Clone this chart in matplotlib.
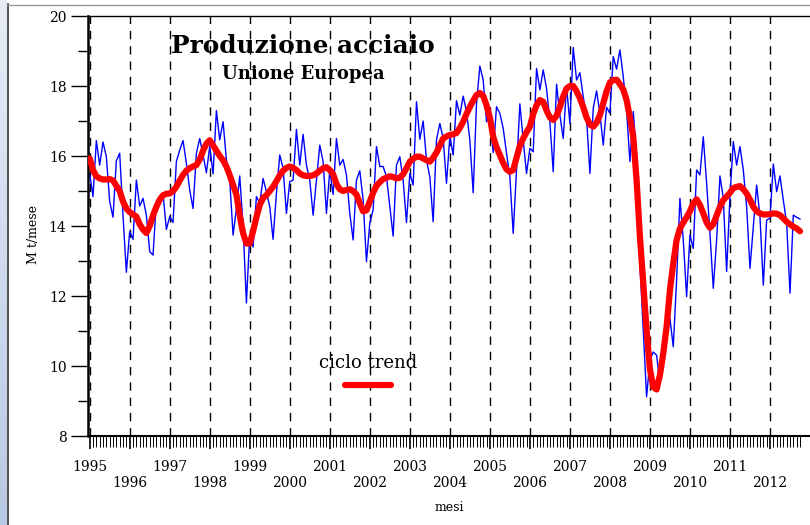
import numpy as np
import matplotlib
matplotlib.use("Agg")
import matplotlib.pyplot as plt
from matplotlib.lines import Line2D

# Monthly EU steel production (Mt/month), Jan 1995 onwards
produzione = [
    15.5, 14.84, 16.44, 15.74, 16.4, 15.98, 14.7, 14.25, 15.86, 16.08, 14.3, 12.68,
    13.84, 13.62, 15.31, 14.57, 14.79, 14.31, 13.27, 13.17, 14.7, 14.84, 14.93, 13.9,
    14.27, 14.1, 15.84, 16.17, 16.44, 15.79, 15.03, 14.5, 16.08, 16.5, 16.03, 15.52,
    16.27, 15.49, 17.3, 16.46, 16.98, 15.89, 15.31, 13.74, 14.5, 15.43, 14.0, 11.8,
    13.74, 13.4, 14.84, 14.65, 15.36, 14.98, 14.55, 13.62, 14.93, 16.03, 15.65, 14.36,
    15.27, 15.31, 16.76, 15.74, 16.62, 15.74, 15.31, 14.31, 15.31, 16.31, 15.84, 14.36,
    15.6, 14.9, 16.5, 15.74, 15.9, 15.46, 14.36, 13.6, 15.31, 15.58, 14.74, 12.98,
    14.08, 14.46, 16.27, 15.7, 15.7, 15.41, 14.55, 13.71, 15.74, 15.98, 15.31, 14.1,
    15.5, 15.17, 17.55, 16.48, 17.0, 15.88, 15.41, 14.12, 16.46, 16.93, 16.5, 15.22,
    16.55, 16.03, 17.58, 17.17, 17.71, 17.27, 16.46, 14.95, 17.5, 18.57, 18.17, 16.98,
    17.12, 16.1, 17.41, 17.22, 16.79, 16.08, 15.41, 13.79, 15.6, 17.49, 16.46, 15.5,
    16.22, 16.12, 18.5, 17.89, 18.46, 17.93, 16.98, 15.55, 18.05, 17.17, 16.5, 17.98,
    16.93, 19.1, 18.17, 18.38, 17.7, 17.08, 15.5, 17.36, 17.86, 17.22, 16.31, 17.39,
    17.22, 18.84, 18.48, 19.03, 18.27, 17.31, 15.84, 17.27, 15.98, 12.93, 11.0, 9.12,
    10.17, 10.4, 10.31, 9.5, 10.84, 11.31, 11.36, 10.55, 12.46, 14.79, 13.6, 11.98,
    13.74, 13.36, 15.6, 15.46, 16.55, 15.22, 13.79, 12.22, 13.6, 15.43, 14.79, 12.7,
    14.84, 16.41, 15.74, 16.27, 15.6, 14.55, 12.79, 14.0, 15.17, 14.26, 12.31, 14.17,
    14.22, 15.77, 14.98, 15.43, 14.74, 14.08, 12.08, 14.31, 14.25, 14.2,
]

# Cycle-trend component, same months
trend = [
    15.93, 15.6, 15.42, 15.36, 15.33, 15.33, 15.34, 15.3, 15.15, 15.0, 14.7, 14.5,
    14.4, 14.33, 14.27, 14.05, 13.9, 13.8, 14.0, 14.3, 14.55, 14.75, 14.88, 14.92,
    14.93, 15.0, 15.12, 15.3, 15.46, 15.58, 15.65, 15.7, 15.74, 15.9, 16.15, 16.35,
    16.45, 16.3, 16.15, 16.0, 15.88, 15.7, 15.45, 15.17, 14.9, 14.3, 13.8, 13.5,
    13.5, 13.85, 14.25, 14.6, 14.8, 14.88, 15.0, 15.12, 15.28, 15.45, 15.58, 15.66,
    15.7, 15.66, 15.6, 15.5, 15.45, 15.43, 15.43, 15.45, 15.5, 15.58, 15.65, 15.68,
    15.6, 15.48, 15.2, 15.05, 15.0, 15.03, 15.05, 15.0, 14.9, 14.65, 14.42, 14.45,
    14.7, 14.95, 15.15, 15.25, 15.34, 15.38, 15.42, 15.4, 15.36, 15.38, 15.48, 15.65,
    15.84, 15.92, 15.98, 15.98, 15.93, 15.88, 15.84, 15.95, 16.1, 16.3, 16.5, 16.56,
    16.6, 16.62, 16.66, 16.8, 16.98, 17.2, 17.4, 17.58, 17.74, 17.8, 17.72, 17.45,
    17.1, 16.55, 16.25, 16.03, 15.8, 15.62, 15.55, 15.6, 15.95, 16.3, 16.5, 16.68,
    16.84, 17.2, 17.45, 17.6, 17.55, 17.3, 17.1, 17.03, 17.15, 17.4, 17.7, 17.93,
    18.0, 18.0, 17.85, 17.65, 17.4, 17.1, 16.9, 16.84, 16.95, 17.17, 17.5, 17.85,
    18.1, 18.17, 18.18, 18.05, 17.9, 17.6, 17.1, 16.55, 15.31, 13.7, 12.36, 11.03,
    9.9, 9.4, 9.33, 9.74, 10.36, 11.12, 12.17, 12.93, 13.6, 13.93, 14.1, 14.25,
    14.42, 14.65, 14.76, 14.6, 14.36, 14.1, 13.95, 14.05, 14.3, 14.55, 14.74, 14.84,
    14.95, 15.08, 15.12, 15.14, 15.05, 14.93, 14.75, 14.55, 14.42, 14.36, 14.33, 14.33,
    14.34, 14.36, 14.35, 14.31, 14.22, 14.12, 14.05, 13.98, 13.93, 13.85,
]

anni = list(range(1995, 2013))

mesi = np.arange(len(produzione))
year_pos = [12 * (a - anni[0]) for a in anni]
# odd years on the first row, even years on the second one
year_labels = [str(a) if a % 2 else "\n" + str(a) for a in anni]

plt.rcParams['font.family'] = ['DejaVu Serif']

fig = plt.figure(figsize=(8.1, 5.25), dpi=100)

# light blue strip on the left edge (window frame look)
strip = fig.add_axes([0, 0, 7 / 810, 1])
strip.imshow(np.linspace(0, 1, 100).reshape(-1, 1), aspect='auto',
             cmap=matplotlib.colors.LinearSegmentedColormap.from_list(
                 'frame', ['#e6edf7', '#b9c8e3']), extent=[0, 1, 0, 1])
strip.axis('off')
fig.add_artist(Line2D([7.5 / 810, 7.5 / 810], [0, 1 - 4 / 525], color='#333333', lw=1.2))
fig.add_artist(Line2D([7 / 810, 1], [1 - 4.5 / 525, 1 - 4.5 / 525], color='#999999', lw=1.0))

ax = fig.add_axes([88 / 810, 89 / 525, 722 / 810, 420 / 525])

# year separators
for p in year_pos:
    ax.axvline(p, color='black', lw=1.0, ls=(0, (6, 5)), zorder=1)

ax.plot(mesi, produzione, color='blue', lw=1.0, zorder=2)
ax.plot(mesi, trend, color='red', lw=4.5, solid_capstyle='round', zorder=3)

ax.set_xlim(-0.5, 216)
ax.set_ylim(8, 20)

ax.set_yticks(range(8, 21, 2))
ax.set_yticks(range(9, 20, 2), minor=True)
ax.set_xticks(year_pos)
ax.set_xticklabels(year_labels, linespacing=1.25)
ax.set_xticks(mesi, minor=True)
ax.tick_params(axis='y', which='major', length=12, width=1.0, labelsize=10, direction='out')
ax.tick_params(axis='y', which='minor', length=7, width=1.0, direction='out')
ax.tick_params(axis='x', which='major', length=9, width=1.2, labelsize=10, pad=8, direction='out')
ax.tick_params(axis='x', which='minor', length=8, width=0.7, direction='out')

ax.spines['right'].set_visible(False)
ax.spines['left'].set_linewidth(1.8)
ax.spines['bottom'].set_linewidth(1.5)
ax.spines['top'].set_linewidth(1.0)

ax.set_xlabel('mesi', fontsize=9, labelpad=8)
ax.set_ylabel('M t/mese', fontsize=9)
ax.yaxis.set_label_coords(-0.067, 0.48)

# titles inside the plot
ax.text(0.298, 0.929, 'Produzione acciaio', transform=ax.transAxes,
        ha='center', va='center', fontsize=17.8, fontweight='bold')
ax.text(0.298, 0.862, 'Unione Europea', transform=ax.transAxes,
        ha='center', va='center', fontsize=13, fontweight='bold')

# legend: title above the red key
trend_key = Line2D([], [], color='red', lw=4.5, solid_capstyle='round')
leg = ax.legend([trend_key], [''], title='ciclo trend', loc='center',
                bbox_to_anchor=(0.388, 0.15), frameon=False, handlelength=3.3,
                handletextpad=0, title_fontsize=13, borderpad=0)

fig.savefig('out.png', dpi=100)
